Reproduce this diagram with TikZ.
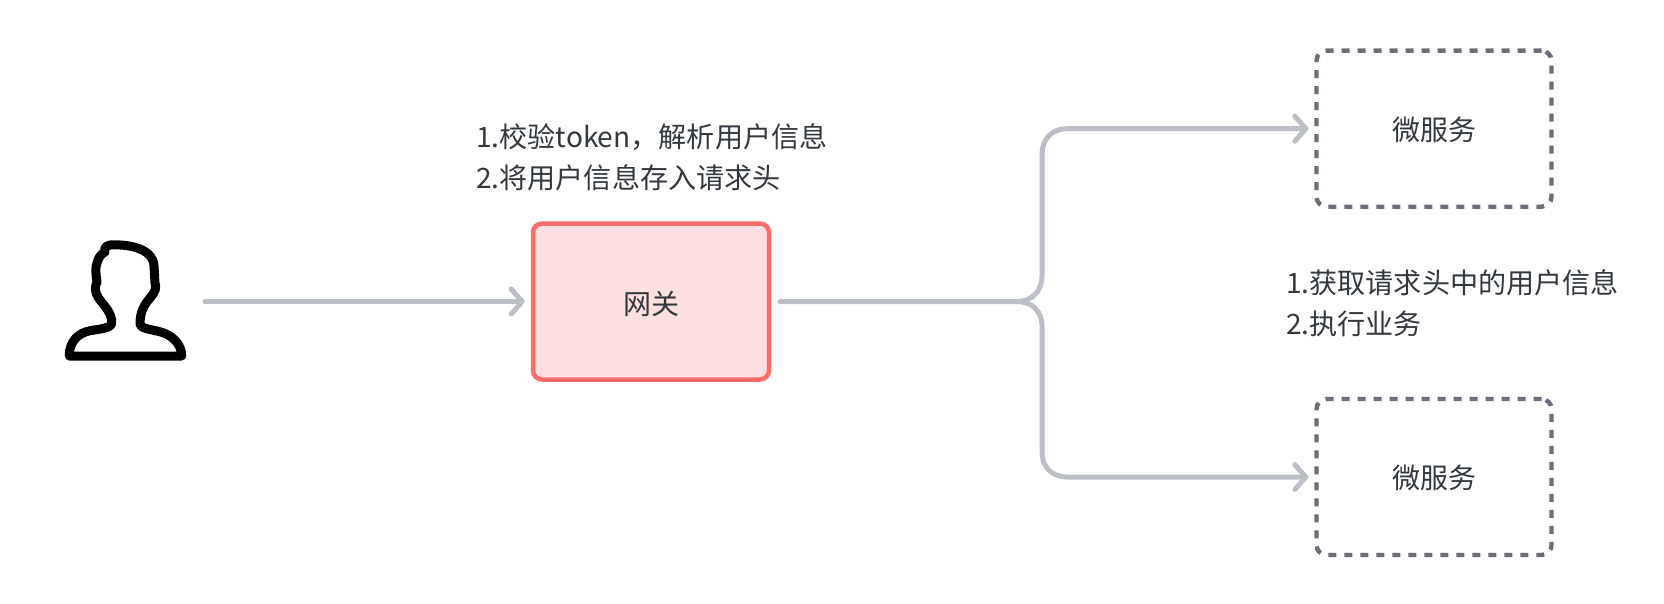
\documentclass[tikz,border=0pt]{standalone}
\usepackage{fontspec}
\setmainfont{Noto Sans CJK SC}
\usetikzlibrary{arrows.meta}
\definecolor{linegray}{HTML}{BCC0C6}
\definecolor{redline}{HTML}{FF6B6B}
\definecolor{redfill}{HTML}{FEE0E0}
\definecolor{dashgray}{HTML}{6B6E78}
\definecolor{txt}{HTML}{33383E}
\newcommand{\notefontcmd}{\fontsize{28.1}{41}\selectfont\setlength{\lineskiplimit}{-50pt}}
\tikzset{x=1pt,y=-1pt,
 conn/.style={draw=linegray,line width=5pt,line cap=round,line join=round},
 arr/.style={conn,-{Straight Barb[length=11pt,width=25pt,line width=5pt,round]}},
 gate/.style={draw=redline,fill=redfill,line width=4.5pt,rounded corners=9pt,minimum width=236pt,minimum height=156pt,inner sep=0pt,text=txt,font=\fontsize{28}{28}\selectfont},
 svc/.style={draw=dashgray,line width=4.4pt,dash pattern=on 8pt off 8pt,rounded corners=10pt,minimum width=235pt,minimum height=156pt,inner sep=0pt,text=txt,font=\fontsize{28}{28}\selectfont},
 note/.style={anchor=west,align=left,text=txt,font=\notefontcmd,inner sep=0pt}}
\begin{document}
\begin{tikzpicture}
\useasboundingbox (0,0) rectangle (1664,604);
\node[gate] (gw) at (651,301.5) {\raisebox{-2.5pt}[\height][\depth]{网关}};
\node[svc] (s1) at (1434,128.7) {\raisebox{-1pt}[\height][\depth]{微服务}};
\node[svc] (s2) at (1434,477) {\raisebox{-1pt}[\height][\depth]{微服务}};
\node[note] (n1) at (476,157.5) {1.校验token，解析用户信息\\2.将用户信息存入请求头};
\node[note] (n2) at (1286,303.5) {1.获取请求头中的用户信息\\2.执行业务};
\coordinate (u) at (205,301.5);
\coordinate (g) at (780,301.5);
\draw[arr] (u) -- ([xshift=-6pt]gw.west);
\draw[arr] (g) -- (1017,301.5) .. controls (1032,301.5) and (1042,291) .. (1042,276) -- (1042,154) .. controls (1042,139) and (1052,128.7) .. (1067,128.7) -- ([xshift=-6pt]s1.west);
\draw[arr] (1017,301.5) .. controls (1032,301.5) and (1042,311) .. (1042,326) -- (1042,452) .. controls (1042,467) and (1052,477) .. (1067,477) -- ([xshift=-6pt]s2.west);
\draw[line width=9pt,line join=round,line cap=round] (69.3,356) .. controls (69,342) and (78,333) .. (90,330.7) .. controls (100,329) and (111.7,328) .. (111.7,323) .. controls (112,310) and (100,303) .. (96.5,294) .. controls (95,290) and (95,286) .. (97,282) .. controls (96,275) and (95,268) .. (97,263) .. controls (98,258) and (101,254) .. (105,252) .. controls (104,249) and (105,246) .. (110,245) .. controls (125,244) and (153,247) .. (154,266) -- (155,283) .. controls (157,288) and (155,292) .. (150,298) .. controls (144,305) and (140,312) .. (140,324) .. controls (140,328) and (148,329) .. (157,331) .. controls (172,334) and (181.7,344) .. (181.7,356) -- cycle;
\end{tikzpicture}
\end{document}
